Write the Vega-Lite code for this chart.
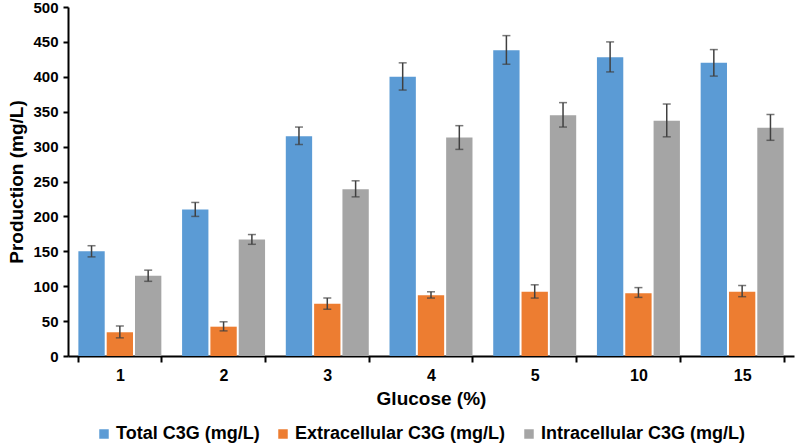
{
  "$schema": "https://vega.github.io/schema/vega-lite/v6.json",
  "width": 726,
  "height": 349,
  "autosize": {"type": "none"},
  "padding": {"left": 68, "top": 7, "right": 3, "bottom": 87},
  "config": {
    "view": {"stroke": null},
    "font": "Liberation Sans",
    "axis": {
      "grid": false,
      "domainColor": "#000",
      "domainWidth": 2,
      "tickColor": "#000",
      "tickWidth": 2,
      "labelColor": "#000",
      "titleColor": "#000",
      "labelFont": "Liberation Sans",
      "titleFont": "Liberation Sans",
      "labelFontWeight": "bold",
      "titleFontWeight": "bold"
    },
    "legend": {
      "labelFont": "Liberation Sans",
      "labelFontWeight": "bold",
      "labelColor": "#000"
    }
  },
  "data": {
    "values": [
      {"glucose": "1", "series": "Total C3G (mg/L)", "value": 150, "lo": 142, "hi": 158},
      {"glucose": "1", "series": "Extracellular C3G (mg/L)", "value": 34, "lo": 26, "hi": 43},
      {"glucose": "1", "series": "Intracellular C3G (mg/L)", "value": 115, "lo": 107, "hi": 123},
      {"glucose": "2", "series": "Total C3G (mg/L)", "value": 210, "lo": 200, "hi": 220},
      {"glucose": "2", "series": "Extracellular C3G (mg/L)", "value": 42, "lo": 36, "hi": 49},
      {"glucose": "2", "series": "Intracellular C3G (mg/L)", "value": 167, "lo": 160, "hi": 174},
      {"glucose": "3", "series": "Total C3G (mg/L)", "value": 315, "lo": 303, "hi": 328},
      {"glucose": "3", "series": "Extracellular C3G (mg/L)", "value": 75, "lo": 67, "hi": 83},
      {"glucose": "3", "series": "Intracellular C3G (mg/L)", "value": 239, "lo": 228, "hi": 251},
      {"glucose": "4", "series": "Total C3G (mg/L)", "value": 400, "lo": 381, "hi": 420},
      {"glucose": "4", "series": "Extracellular C3G (mg/L)", "value": 87, "lo": 83, "hi": 92},
      {"glucose": "4", "series": "Intracellular C3G (mg/L)", "value": 313, "lo": 296, "hi": 330},
      {"glucose": "5", "series": "Total C3G (mg/L)", "value": 438, "lo": 418, "hi": 459},
      {"glucose": "5", "series": "Extracellular C3G (mg/L)", "value": 92, "lo": 83, "hi": 102},
      {"glucose": "5", "series": "Intracellular C3G (mg/L)", "value": 345, "lo": 328, "hi": 363},
      {"glucose": "10", "series": "Total C3G (mg/L)", "value": 428, "lo": 407, "hi": 450},
      {"glucose": "10", "series": "Extracellular C3G (mg/L)", "value": 90, "lo": 84, "hi": 98},
      {"glucose": "10", "series": "Intracellular C3G (mg/L)", "value": 337, "lo": 314, "hi": 361},
      {"glucose": "15", "series": "Total C3G (mg/L)", "value": 420, "lo": 401, "hi": 439},
      {"glucose": "15", "series": "Extracellular C3G (mg/L)", "value": 92, "lo": 85, "hi": 101},
      {"glucose": "15", "series": "Intracellular C3G (mg/L)", "value": 327, "lo": 309, "hi": 346}
    ]
  },
  "encoding": {
    "x": {
      "field": "glucose",
      "type": "nominal",
      "sort": ["1", "2", "3", "4", "5", "10", "15"],
      "scale": {"paddingInner": 0.2, "paddingOuter": 0.1},
      "axis": {
        "title": "Glucose (%)",
        "labelAngle": 0,
        "labelFontSize": 16,
        "labelPadding": 5,
        "tickSize": 6,
        "tickBand": "extent",
        "titleFontSize": 19,
        "titlePadding": 6
      }
    },
    "xOffset": {
      "field": "series",
      "type": "nominal",
      "sort": ["Total C3G (mg/L)", "Extracellular C3G (mg/L)", "Intracellular C3G (mg/L)"],
      "scale": {"paddingInner": 0.07, "paddingOuter": 0}
    }
  },
  "layer": [
    {
      "mark": {"type": "bar"},
      "encoding": {
        "y": {
          "field": "value",
          "type": "quantitative",
          "scale": {"domain": [0, 500]},
          "axis": {
            "title": "Production (mg/L)",
            "tickCount": 10,
            "labelFontSize": 15,
            "labelPadding": 5,
            "tickSize": 5,
            "titleFontSize": 19,
            "titlePadding": 6
          }
        },
        "color": {
          "field": "series",
          "type": "nominal",
          "sort": ["Total C3G (mg/L)", "Extracellular C3G (mg/L)", "Intracellular C3G (mg/L)"],
          "scale": {
            "domain": ["Total C3G (mg/L)", "Extracellular C3G (mg/L)", "Intracellular C3G (mg/L)"],
            "range": ["#5B9BD5", "#ED7D31", "#A5A5A5"]
          },
          "legend": {
            "title": null,
            "orient": "none",
            "legendX": 27,
            "legendY": 418,
            "direction": "horizontal",
            "symbolType": "square",
            "symbolSize": 90,
            "symbolStrokeWidth": 0,
            "labelFontSize": 18,
            "labelLimit": 0,
            "labelOffset": 3,
            "columnPadding": 14
          }
        }
      }
    },
    {
      "mark": {"type": "rule", "color": "#404040", "strokeWidth": 1.5},
      "encoding": {
        "y": {"field": "lo", "type": "quantitative"},
        "y2": {"field": "hi"}
      }
    },
    {
      "mark": {"type": "tick", "color": "#404040", "thickness": 1.5, "size": 8},
      "encoding": {
        "y": {"field": "lo", "type": "quantitative"}
      }
    },
    {
      "mark": {"type": "tick", "color": "#404040", "thickness": 1.5, "size": 8},
      "encoding": {
        "y": {"field": "hi", "type": "quantitative"}
      }
    }
  ]
}
